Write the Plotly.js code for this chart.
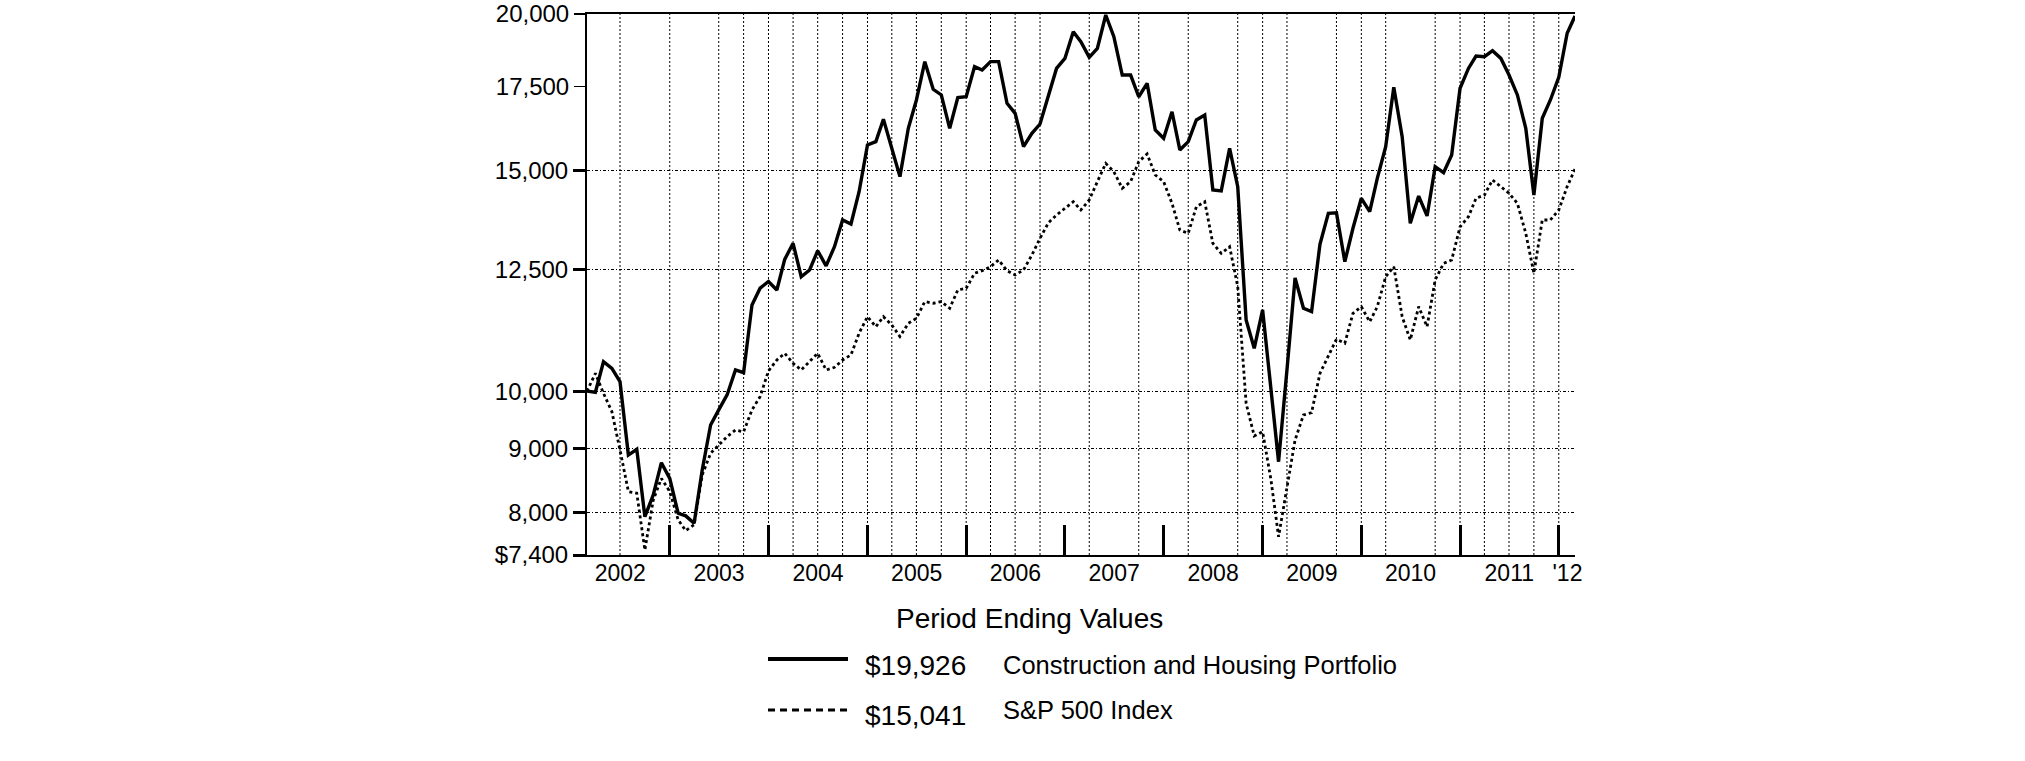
<!DOCTYPE html>
<html>
<head>
<meta charset="utf-8">
<script src="https://cdn.plot.ly/plotly-3.0.1.min.js"></script>
<style>
html,body{margin:0;padding:0;background:#fff;}
#chart{width:2025px;height:761px;}
</style>
</head>
<body>
<div id="chart"></div>
<script>
// ---- Data (month-end values, Feb 2002 .. Feb 2012) ----
const firstMonth = {year: 2002, month: 2};   // February 2002

const portfolio = [
  10000, 9980, 10556, 10428, 10177, 8892, 8986, 7940, 8263, 8768, 8519,
  7990, 7952, 7845, 8652, 9397, 9661, 9931, 10397, 10345, 11718, 12083, 12232,
  12044, 12740, 13122, 12341, 12495, 12945, 12588, 13040, 13697, 13597, 14428, 15722,
  15818, 16482, 15578, 14833, 16211, 17077, 18323, 17415, 17236, 16211, 17149, 17179,
  18155, 18043, 18323, 18323, 16972, 16662, 15672, 16063, 16339, 17179, 18097, 18433,
  19361, 19008, 18467, 18776, 19963, 19183, 17878, 17878, 17179, 17608, 16159, 15915,
  16712, 15578, 15818, 16460, 16612, 14472, 14450, 15625, 14563, 11399, 10820, 11611,
  10084, 8784, 10400, 12312, 11646, 11574, 13100, 13866, 13880, 12686, 13490, 14254,
  13908, 14785, 15672, 17479, 15964, 13614, 14313, 13799, 15106, 14940, 15435, 17447,
  18097, 18513, 18490, 18694, 18433, 17878, 17236, 16211, 14340, 16514, 17077, 17805,
  19304, 19926
];

const sp500 = [
  10000, 10333, 9961, 9630, 8975, 8315, 8290, 7468, 8188, 8519, 8315,
  7894, 7739, 7822, 8573, 8921, 9057, 9198, 9311, 9280, 9661, 9899, 10380,
  10590, 10720, 10525, 10397, 10556, 10720, 10397, 10447, 10590, 10688, 11124, 11467,
  11257, 11467, 11293, 11055, 11327, 11432, 11789, 11754, 11789, 11646, 12044, 12080,
  12420, 12478, 12570, 12726, 12478, 12380, 12495, 12844, 13243, 13627, 13823, 13993,
  14164, 13951, 14210, 14697, 15200, 14967, 14519, 14697, 15246, 15464, 14878, 14697,
  14122, 13446, 13366, 14035, 14164, 13122, 12882, 13040, 12120, 9779, 9209, 9281,
  8494, 7653, 8392, 9141, 9572, 9612, 10333, 10654, 11002, 10921, 11538, 11680,
  11360, 11680, 12341, 12570, 11467, 10987, 11680, 11257, 12268, 12647, 12726, 13527,
  13778, 14254, 14340, 14741, 14563, 14386, 14122, 13366, 12420, 13697, 13697, 13951,
  14563, 15041
];

const seriesNames = ['Construction and Housing Portfolio', 'S&P 500 Index'];
const legendTitle = 'Period Ending Values';

// y ticks: the lower group carries dotted gridlines, the upper two do not
const yTickValsGrid = [7400, 8000, 9000, 10000, 12500, 15000];
const yTickTextGrid = ['$7,400', '8,000', '9,000', '10,000', '12,500', '15,000'];
const yTickValsTop = [17500, 20000];
const yTickTextTop = ['17,500', '20,000'];

const gridDates = [
  '2002-06-30','2002-12-31','2003-06-30','2003-09-30','2003-12-31',
  '2004-03-31','2004-06-30','2004-09-30','2004-12-31',
  '2005-03-31','2005-06-30','2005-09-30','2005-12-31',
  '2006-03-31','2006-06-30','2006-09-30',
  '2007-03-31','2007-09-30',
  '2008-03-31','2008-09-30','2008-12-31',
  '2009-03-31','2009-09-30','2009-12-31',
  '2010-03-31','2010-09-30','2010-12-31',
  '2011-03-31','2011-06-30','2011-09-30','2011-12-31'
];
const yearEndDates = ['2002-12-31','2003-12-31','2004-12-31','2005-12-31','2006-12-31',
  '2007-12-31','2008-12-31','2009-12-31','2010-12-31','2011-12-31'];
const yearLabelDates = ['2002-07-01','2003-07-01','2004-07-01','2005-07-01','2006-07-01',
  '2007-07-01','2008-07-01','2009-07-01','2010-07-01','2011-07-01','2012-02-01'];
const yearLabels = ['2002','2003','2004','2005','2006','2007','2008','2009','2010','2011',"'12"];

// month-end dates for each observation
const months = portfolio.map((_, k) =>
  new Date(Date.UTC(firstMonth.year, firstMonth.month + k, 0)).toISOString().slice(0, 10));

// ---- Layout geometry (pixels) ----
const W = 2025, H = 761;
const L = 587, R = 1575, T = 14, B = 555;
const px = x => (x - L) / (R - L);
const py = y => (B - y) / (B - T);

const FONT = 'Liberation Sans, Arial, sans-serif';
const fmt = v => '$' + v.toLocaleString('en-US');
const xRange = [months[0], months[months.length - 1]];
const yRange = [Math.log10(7400), Math.log10(20000)];
const noMinor = {showgrid: false, ticks: ''};

const ghost = (ax) => ({x: [months[0]], y: [portfolio[0]], xaxis: ax[0], yaxis: ax[1], mode: 'markers',
  marker: {opacity: 0}, hoverinfo: 'skip', showlegend: false});

const traces = [
  {x: months, y: sp500, mode: 'lines', name: seriesNames[1],
   line: {color: '#000', width: 2.8, dash: '3px,3px'}, hoverinfo: 'skip'},
  {x: months, y: portfolio, mode: 'lines', name: seriesNames[0],
   line: {color: '#000', width: 3.4}, hoverinfo: 'skip'},
  ghost(['x2', 'y']), ghost(['x3', 'y']), ghost(['x', 'y2'])
];

const vGrid = gridDates.map(d => ({
  type: 'line', xref: 'x', yref: 'paper', x0: d, x1: d, y0: 0, y1: 1, layer: 'below',
  line: {color: '#000', width: 1, dash: '2px,2px'}
}));

const layout = {
  width: W, height: H,
  margin: {l: L, r: W - R, t: T, b: H - B, pad: 0},
  paper_bgcolor: '#fff', plot_bgcolor: '#fff',
  showlegend: false,
  font: {family: FONT, color: '#000'},
  xaxis: {
    type: 'date', range: xRange, showticklabels: false, ticks: '', showgrid: false, minor: noMinor,
    showline: true, linecolor: '#000', linewidth: 2, mirror: true, zeroline: false, fixedrange: true
  },
  xaxis2: {
    type: 'date', range: xRange, overlaying: 'x', anchor: 'y', side: 'bottom', minor: noMinor,
    tickvals: yearEndDates, ticks: 'inside', ticklen: 30, tickwidth: 3, tickcolor: '#000',
    showticklabels: false, showgrid: false, showline: false, zeroline: false
  },
  xaxis3: {
    type: 'date', range: xRange, overlaying: 'x', anchor: 'y', side: 'bottom', minor: noMinor,
    tickvals: yearLabelDates, ticktext: yearLabels, ticks: '',
    showgrid: false, showline: false, zeroline: false, ticklabelstandoff: 2,
    tickfont: {family: FONT, size: 23, color: '#000'}
  },
  yaxis: {
    type: 'log', range: yRange,
    tickvals: yTickValsGrid, ticktext: yTickTextGrid,
    ticks: 'outside', ticklen: 12, tickwidth: 3, tickcolor: '#000',
    showgrid: true, gridcolor: '#000', gridwidth: 1, griddash: '3px,2px,1px,2px',
    showline: true, linecolor: '#000', linewidth: 2, zeroline: false, ticklabelstandoff: 0,
    tickfont: {family: FONT, size: 24, color: '#000'}, fixedrange: true
  },
  yaxis2: {
    type: 'log', range: yRange, overlaying: 'y', side: 'left', anchor: 'x',
    tickvals: yTickValsTop, ticktext: yTickTextTop,
    ticks: 'outside', ticklen: 12, tickwidth: 1.6, tickcolor: '#000',
    showgrid: false, showline: false, zeroline: false, ticklabelstandoff: 0,
    tickfont: {family: FONT, size: 24, color: '#000'}
  },
  shapes: vGrid.concat([
    {type: 'line', xref: 'paper', yref: 'paper', x0: px(768), x1: px(848), y0: py(659), y1: py(659),
     line: {color: '#000', width: 4}},
    {type: 'line', xref: 'paper', yref: 'paper', x0: px(768), x1: px(848), y0: py(710), y1: py(710),
     line: {color: '#000', width: 3, dash: '7px,5px'}}
  ]),
  annotations: [
    {text: legendTitle, xref: 'paper', yref: 'paper', x: px(1029), y: py(618),
     xanchor: 'center', yanchor: 'middle', showarrow: false, font: {family: FONT, size: 28}},
    {text: fmt(portfolio[portfolio.length - 1]), xref: 'paper', yref: 'paper', x: px(863), y: py(665),
     xanchor: 'left', yanchor: 'middle', showarrow: false, font: {family: FONT, size: 28}},
    {text: seriesNames[0], xref: 'paper', yref: 'paper', x: px(1001), y: py(665),
     xanchor: 'left', yanchor: 'middle', showarrow: false, font: {family: FONT, size: 25.5}},
    {text: fmt(sp500[sp500.length - 1]), xref: 'paper', yref: 'paper', x: px(863), y: py(715),
     xanchor: 'left', yanchor: 'middle', showarrow: false, font: {family: FONT, size: 28}},
    {text: seriesNames[1].replace('&', '&amp;'), xref: 'paper', yref: 'paper', x: px(1001), y: py(710),
     xanchor: 'left', yanchor: 'middle', showarrow: false, font: {family: FONT, size: 25.5}}
  ]
};

Plotly.newPlot('chart', traces, layout, {staticPlot: true, displayModeBar: false});
</script>
</body>
</html>
